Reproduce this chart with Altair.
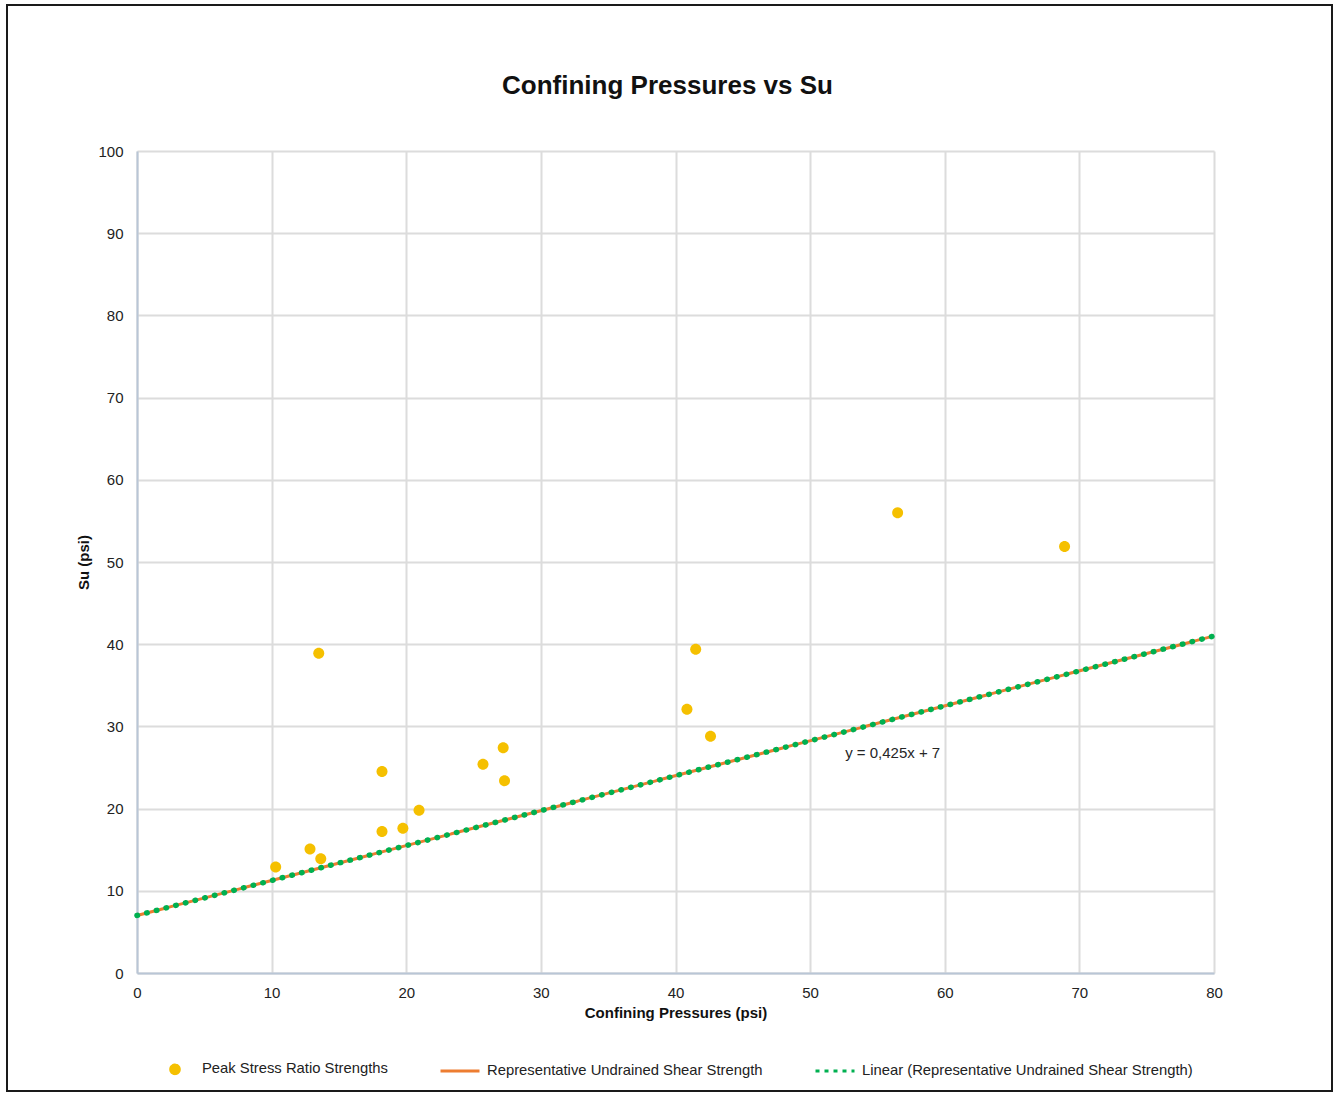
import altair as alt
import pandas as pd

# ---- data ----
conf_pressure = [10.3, 12.85, 13.65, 13.5, 18.2, 18.2, 19.75, 20.95, 25.7, 27.2, 27.3, 40.85, 41.5, 42.6, 56.5, 68.9]
su = [12.9, 15.1, 13.9, 38.9, 24.5, 17.2, 17.6, 19.8, 25.4, 27.4, 23.4, 32.1, 39.4, 28.8, 56.0, 51.9]

rep_x = [0, 80]
rep_y = [7, 41]

series_names = [
    "Peak Stress Ratio Strengths",
    "Representative Undrained Shear Strength",
    "Linear (Representative Undrained Shear Strength)",
]
series_colors = ["#F5C000", "#ED7D31", "#00B050"]

eq_label = ["y = 0,425x + 7"]
eq_x = [52.6]
eq_y = [26.8]

x_ticks = [0, 10, 20, 30, 40, 50, 60, 70, 80]
y_ticks = [0, 10, 20, 30, 40, 50, 60, 70, 80, 90, 100]

FONT = "Liberation Sans"

pts = pd.DataFrame({"x": conf_pressure, "y": su, "series": series_names[0]})
rep = pd.DataFrame({"x": rep_x, "y": rep_y, "series": series_names[1]})
trend = pd.DataFrame({"x": rep_x, "y": rep_y, "series": series_names[2]})
eq = pd.DataFrame({"x": eq_x, "y": eq_y, "label": eq_label})

xs = alt.Scale(domain=[0, 80], nice=False, zero=False)
ys = alt.Scale(domain=[0, 100], nice=False, zero=False)

X = alt.X("x:Q", scale=xs, title="Confining Pressures (psi)",
          axis=alt.Axis(values=x_ticks, format="d"))
Y = alt.Y("y:Q", scale=ys, title="Su (psi)",
          axis=alt.Axis(values=y_ticks, format="d"))

color_scale = alt.Scale(domain=series_names, range=series_colors)
legend = alt.Legend(title=None, orient="none", direction="horizontal", columns=3,
                    legendX=17, legendY=897)

CIRCLE = "M-0.22,0A0.22,0.22 0 1,0 0.22,0A0.22,0.22 0 1,0 -0.22,0Z"
SEG = "M-1,0L1,0"
shape_scale = alt.Scale(domain=series_names, range=[CIRCLE, SEG, SEG])
dash_scale = alt.Scale(domain=series_names, range=[[1, 0], [1, 0], [4, 5]])

rep_line = alt.Chart(rep).mark_line(strokeWidth=3).encode(
    x=X, y=Y,
    color=alt.Color("series:N", scale=color_scale, legend=legend),
    strokeDash=alt.StrokeDash("series:N", scale=dash_scale, legend=legend),
)

trend_line = alt.Chart(trend).mark_line(
    strokeWidth=5.5, strokeDash=[0.5, 9.5], strokeCap="round"
).encode(
    x=X, y=Y,
    color=alt.Color("series:N", scale=color_scale, legend=legend),
)

points = alt.Chart(pts).mark_point(filled=True, size=2500, opacity=1).encode(
    x=X, y=Y,
    color=alt.Color("series:N", scale=color_scale, legend=legend),
    shape=alt.Shape("series:N", scale=shape_scale, legend=legend),
)

eq_text = alt.Chart(eq).mark_text(
    align="left", baseline="middle", fontSize=15, font=FONT, color="#262626"
).encode(x=X, y=Y, text="label:N")

frame = alt.Chart(pd.DataFrame({"a": [0]})).mark_rect(
    fill=None, stroke="#1a1a1a", strokeWidth=2, clip=False
).encode(
    x=alt.value(-130), x2=alt.value(1195), y=alt.value(-146), y2=alt.value(940)
)

chart = alt.layer(rep_line, trend_line, points, eq_text, frame).properties(
    width=1077,
    height=822,
    autosize=alt.AutoSizeParams(type="none"),
    padding={"left": 137, "top": 151, "right": 121, "bottom": 121},
    title=alt.TitleParams(
        "Confining Pressures vs Su", fontSize=26, font=FONT, fontWeight="bold",
        color="#111111", offset=0, dx=-8, dy=95, anchor="middle", frame="group",
    ),
).configure_view(stroke=None).configure_axis(
    labelFont=FONT, labelFontSize=15, labelColor="#222222",
    titleFont=FONT, titleFontSize=15, titleFontWeight="bold", titleColor="#111111",
    gridColor="#dcdcdc", gridWidth=2, domainColor="#b9c6d6", domainWidth=2,
    ticks=False, labelFlush=False,
).configure_axisX(
    labelPadding=12, titlePadding=5,
).configure_axisY(
    labelPadding=14, titlePadding=6,
).configure_legend(
    labelFont=FONT, labelFontSize=14.8, labelColor="#222222", labelLimit=0,
    symbolSize=1521, symbolStrokeWidth=3, columnPadding=46, labelOffset=6,
)

chart.save("out.html", embed_options={"renderer": "svg", "actions": False})
